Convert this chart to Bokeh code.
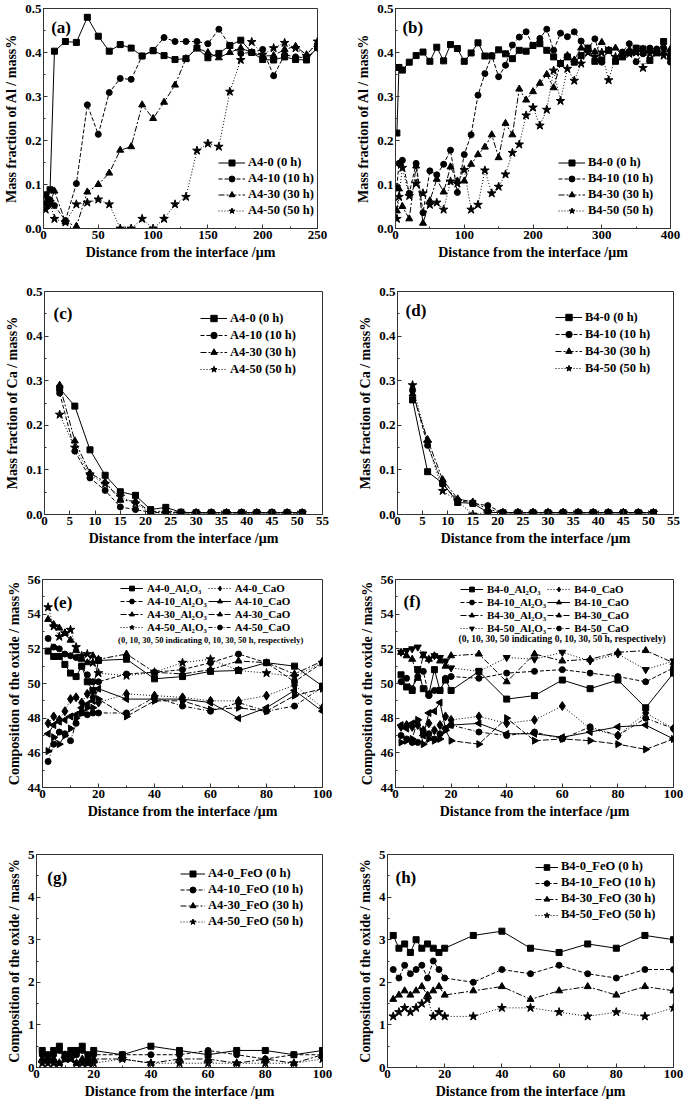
import math
from bokeh.plotting import figure
from bokeh.layouts import column, row
from bokeh.models import (Legend, LegendItem, Label, Range1d, SingleIntervalTicker,
                          PrintfTickFormatter)
from bokeh.embed import file_html
from bokeh.resources import INLINE

FONT = "Liberation Serif"

# ---------------- data ----------------
# (a) Al in A4 samples
X_A_AL = [2, 4, 6] + list(range(10, 251, 10))
A4_0_AL = [0.055, 0.065, 0.088, 0.403, 0.425, 0.423, 0.480, 0.437, 0.403, 0.418, 0.410, 0.392, 0.404,
           0.393, 0.384, 0.386, 0.410, 0.388, 0.398, 0.416, 0.428, 0.400, 0.384, 0.383, 0.390, 0.384, 0.383, 0.412]
A4_10_AL = [0.077, 0.060, 0.065, 0.052, 0.018, 0.102, 0.281, 0.214, 0.309, 0.341, 0.339, 0.392, 0.405,
            0.434, 0.425, 0.425, 0.425, 0.420, 0.453, 0.416, 0.398, 0.400, 0.407, 0.347, 0.395, 0.390, 0.388, 0.410]
A4_30_AL = [0.050, 0.055, 0.060, 0.085, 0.015, 0.005, 0.083, 0.100, 0.126, 0.178, 0.186, 0.281, 0.250,
            0.287, 0.326, 0.386, 0.410, 0.400, 0.388, 0.400, 0.410, 0.400, 0.392, 0.393, 0.407, 0.414, 0.395, 0.423]
A4_50_AL = [0.043, 0.055, 0.060, 0.022, 0.014, 0.055, 0.059, 0.066, 0.055, 0.000, 0.000, 0.022, 0.000,
            0.022, 0.055, 0.072, 0.177, 0.193, 0.186, 0.311, 0.383, 0.424, 0.395, 0.410, 0.422, 0.410, 0.392, 0.425]

# (b) Al in B4 samples
X_B_AL = [2, 5] + list(range(10, 401, 10))
B4_0_AL = [0.217, 0.366, 0.360, 0.378, 0.393, 0.401, 0.380, 0.412, 0.381, 0.418, 0.409, 0.380,
           0.399, 0.422, 0.392, 0.392, 0.406, 0.397, 0.386, 0.405, 0.403, 0.416,
           0.420, 0.405, 0.390, 0.375, 0.390, 0.378, 0.393, 0.410, 0.380, 0.383,
           0.405, 0.380, 0.390, 0.400, 0.410, 0.408, 0.382, 0.400, 0.425, 0.390]
B4_10_AL = [0.095, 0.148, 0.155, 0.080, 0.148, 0.036, 0.131, 0.122, 0.146, 0.178, 0.082, 0.168,
            0.213, 0.303, 0.352, 0.393, 0.345, 0.371, 0.417, 0.435, 0.447, 0.416,
            0.432, 0.453, 0.405, 0.444, 0.436, 0.447, 0.426, 0.408, 0.431, 0.378,
            0.405, 0.382, 0.401, 0.420, 0.379, 0.397, 0.410, 0.408, 0.410, 0.378]
B4_30_AL = [0.040, 0.090, 0.050, 0.022, 0.142, 0.012, 0.063, 0.112, 0.083, 0.140, 0.108, 0.108,
            0.146, 0.168, 0.185, 0.213, 0.161, 0.239, 0.213, 0.317, 0.292, 0.311,
            0.330, 0.350, 0.320, 0.375, 0.393, 0.383, 0.410, 0.408, 0.401, 0.423,
            0.405, 0.410, 0.393, 0.405, 0.400, 0.408, 0.405, 0.397, 0.400, 0.408]
B4_50_AL = [0.022, 0.072, 0.138, 0.074, 0.102, 0.080, 0.054, 0.059, 0.043, 0.107, 0.102, 0.133,
            0.043, 0.054, 0.132, 0.080, 0.095, 0.123, 0.172, 0.191, 0.257, 0.275,
            0.234, 0.270, 0.359, 0.290, 0.363, 0.336, 0.375, 0.400, 0.390, 0.400,
            0.337, 0.390, 0.393, 0.397, 0.400, 0.365, 0.397, 0.400, 0.393, 0.400]

# (c), (d) Ca
X_CA = [3, 6, 9, 12, 15, 18, 21, 24, 27, 30, 33, 36, 39, 42, 45, 48, 51]
A4_0_CA = [0.283, 0.243, 0.145, 0.088, 0.051, 0.043, 0.011, 0.016, 0.005, 0.004, 0.004, 0.004, 0.004, 0.004, 0.004, 0.004, 0.004]
A4_10_CA = [0.272, 0.142, 0.082, 0.054, 0.017, 0.011, 0.005, 0.004, 0.004, 0.004, 0.004, 0.004, 0.004, 0.004, 0.004, 0.004, 0.004]
A4_30_CA = [0.290, 0.165, 0.093, 0.073, 0.032, 0.030, 0.006, 0.008, 0.004, 0.004, 0.004, 0.004, 0.004, 0.004, 0.004, 0.004, 0.004]
A4_50_CA = [0.224, 0.150, 0.090, 0.069, 0.040, 0.025, 0.004, 0.003, 0.003, 0.003, 0.003, 0.003, 0.003, 0.003, 0.003, 0.003, 0.003]
B4_0_CA = [0.257, 0.096, 0.070, 0.027, 0.025, 0.005, 0.004, 0.004, 0.004, 0.004, 0.004, 0.004, 0.004, 0.004, 0.004, 0.004, 0.004]
B4_10_CA = [0.278, 0.155, 0.068, 0.032, 0.025, 0.020, 0.004, 0.004, 0.004, 0.004, 0.004, 0.004, 0.004, 0.004, 0.004, 0.004, 0.004]
B4_30_CA = [0.270, 0.168, 0.078, 0.035, 0.028, 0.012, 0.004, 0.004, 0.004, 0.004, 0.004, 0.004, 0.004, 0.004, 0.004, 0.004, 0.004]
B4_50_CA = [0.290, 0.160, 0.053, 0.030, 0.000, 0.005, 0.004, 0.004, 0.004, 0.004, 0.004, 0.004, 0.004, 0.004, 0.004, 0.004, 0.004]

# (e)-(h) oxide composition
X_OX = [2, 4, 6, 8, 10, 12, 14, 16, 18, 20, 30, 40, 50, 60, 70, 80, 90, 100]
A4_0_AL2O3 = [51.87, 51.56, 51.56, 51.10, 50.60, 50.40, 51.00, 50.10, 49.60, 51.33, 51.40, 50.27, 50.40, 50.70, 50.75, 51.20, 51.00, 49.85]
A4_10_AL2O3 = [52.60, 52.10, 52.00, 51.70, 51.60, 51.50, 51.00, 50.50, 50.10, 50.10, 50.55, 50.65, 50.80, 51.20, 51.70, 51.20, 50.10, 51.20]
A4_30_AL2O3 = [53.70, 53.40, 53.20, 52.90, 52.50, 51.90, 51.40, 51.20, 51.60, 51.40, 51.70, 50.65, 50.55, 50.80, 51.30, 51.20, 50.55, 51.30]
A4_50_AL2O3 = [54.40, 53.30, 52.70, 52.90, 53.10, 52.10, 51.60, 51.70, 51.20, 50.60, 50.45, 50.65, 51.20, 51.40, 50.75, 50.60, 50.40, 51.20]
A4_0_CAO = [47.7, 48.1, 47.9, 48.4, 49.1, 49.2, 48.9, 49.4, 49.2, 48.9, 49.4, 49.3, 49.2, 49.0, 49.0, 49.3, 49.9, 48.6]
A4_10_CAO = [47.1, 47.6, 47.8, 47.9, 48.1, 48.2, 48.6, 48.8, 49.0, 49.7, 49.1, 49.1, 49.1, 48.9, 48.0, 48.6, 49.6, 48.4]
A4_30_CAO = [46.1, 46.9, 46.5, 47.0, 47.4, 48.0, 48.3, 48.6, 48.6, 49.1, 48.1, 49.0, 49.0, 48.5, 48.6, 48.4, 49.3, 49.7]
A4_50_CAO = [45.5, 46.5, 47.2, 47.1, 46.7, 47.7, 48.3, 48.2, 48.3, 48.3, 48.3, 49.2, 48.7, 48.4, 48.9, 48.4, 48.7, 49.8]

B4_0_AL2O3 = [50.5, 49.8, 49.6, 50.8, 49.7, 49.4, 50.8, 49.6, 50.2, 49.6, 50.7, 49.1, 49.3, 50.2, 49.7, 50.2, 48.6, 50.6]
B4_10_AL2O3 = [50.1, 50.3, 49.7, 50.4, 50.7, 49.3, 49.6, 49.6, 50.3, 50.4, 50.3, 50.6, 50.7, 50.8, 50.6, 50.4, 50.1, 50.9]
B4_30_AL2O3 = [51.8, 51.6, 51.4, 50.3, 51.6, 51.4, 51.6, 51.3, 51.0, 51.6, 51.7, 50.1, 51.7, 51.3, 51.4, 51.8, 51.9, 51.2]
B4_50_AL2O3 = [51.8, 51.9, 52.0, 52.1, 51.7, 51.4, 51.6, 51.5, 51.3, 50.9, 50.7, 51.5, 51.4, 51.8, 51.3, 51.7, 50.8, 51.3]
B4_0_CAO = [47.5, 47.6, 47.5, 47.6, 47.3, 47.7, 47.3, 47.6, 48.1, 47.9, 48.1, 47.7, 47.9, 48.7, 47.4, 47.0, 48.3, 47.4]
B4_10_CAO = [47.6, 47.4, 47.7, 47.8, 47.0, 48.3, 48.4, 48.9, 47.4, 47.6, 47.7, 47.1, 47.1, 46.9, 47.2, 47.5, 47.6, 46.8]
B4_30_CAO = [46.6, 46.7, 46.8, 47.9, 46.5, 46.8, 46.7, 46.8, 47.3, 46.7, 46.5, 48.0, 46.7, 46.8, 46.7, 46.5, 46.2, 46.8]
B4_50_CAO = [47.0, 46.8, 46.6, 46.6, 47.1, 47.1, 46.8, 47.1, 47.4, 47.6, 47.2, 47.0, 47.2, 46.8, 47.5, 47.0, 48.0, 47.4]

A4_0_FEO = [0.4, 0.3, 0.4, 0.5, 0.3, 0.4, 0.4, 0.5, 0.3, 0.4, 0.3, 0.5, 0.4, 0.3, 0.4, 0.4, 0.3, 0.4]
A4_10_FEO = [0.3, 0.2, 0.3, 0.4, 0.2, 0.3, 0.3, 0.4, 0.2, 0.3, 0.3, 0.3, 0.3, 0.4, 0.3, 0.2, 0.3, 0.3]
A4_30_FEO = [0.2, 0.2, 0.2, 0.1, 0.3, 0.2, 0.1, 0.2, 0.1, 0.2, 0.2, 0.1, 0.2, 0.2, 0.1, 0.2, 0.1, 0.3]
A4_50_FEO = [0.1, 0.1, 0.1, 0.1, 0.2, 0.2, 0.1, 0.1, 0.1, 0.1, 0.2, 0.1, 0.1, 0.1, 0.1, 0.1, 0.1, 0.2]
B4_0_FEO = [3.1, 2.8, 2.9, 2.7, 3.0, 2.8, 2.9, 2.8, 2.7, 2.8, 3.1, 3.2, 2.8, 2.7, 2.9, 2.8, 3.1, 3.0]
B4_10_FEO = [2.3, 2.1, 2.4, 2.2, 2.3, 2.4, 2.1, 2.5, 2.3, 2.1, 2.0, 2.3, 2.2, 2.4, 2.2, 2.1, 2.3, 2.3]
B4_30_FEO = [1.6, 1.7, 1.8, 1.7, 1.8, 1.9, 1.7, 1.8, 1.9, 1.7, 1.8, 1.9, 1.6, 1.8, 1.9, 1.7, 1.9, 1.8]
B4_50_FEO = [1.2, 1.3, 1.4, 1.3, 1.4, 1.5, 1.6, 1.2, 1.3, 1.2, 1.2, 1.4, 1.4, 1.3, 1.2, 1.3, 1.2, 1.4]

NOTE = "(0, 10, 30, 50 indicating 0, 10, 30, 50 h, respectively)"
XTITLE = "Distance from the interface /\u03bcm"

# ---------------- styling helpers ----------------
SOLID, DASH, DASHDOT, DOT = "solid", "4 2", "6 2 2 2", "1 2"
MSIZE = {"square": 6, "circle": 6, "triangle": 7, "star": 9, "diamond": 9, "inverted_triangle": 7}
AXC = "#333333"


def make_fig(w, h, xr, yr, bl, br, bt, bb, xint, xminor, yint, yminor, yfmt, ytitle):
    p = figure(width=w, height=h, x_range=Range1d(*xr), y_range=Range1d(*yr),
               output_backend="svg", toolbar_location=None,
               min_border_left=bl, min_border_right=br, min_border_top=bt, min_border_bottom=bb)
    p.grid.visible = False
    p.outline_line_color = AXC
    p.outline_line_width = 1
    p.xaxis.ticker = SingleIntervalTicker(interval=xint, num_minor_ticks=xminor)
    p.yaxis.ticker = SingleIntervalTicker(interval=yint, num_minor_ticks=yminor)
    if yfmt:
        p.yaxis.formatter = PrintfTickFormatter(format=yfmt)
    p.xaxis.axis_label = XTITLE
    p.yaxis.axis_label = ytitle
    for ax in (p.xaxis[0], p.yaxis[0]):
        ax.major_tick_in = 4
        ax.major_tick_out = 0
        ax.minor_tick_in = 2
        ax.minor_tick_out = 0
        ax.axis_line_color = AXC
        ax.major_tick_line_color = AXC
        ax.minor_tick_line_color = AXC
        ax.major_label_text_font = FONT
        ax.major_label_text_font_style = "bold"
        ax.major_label_text_font_size = "13px"
        ax.major_label_text_color = "black"
        ax.axis_label_text_font = FONT
        ax.axis_label_text_font_style = "bold"
        ax.axis_label_text_font_size = "14px"
        ax.axis_label_text_color = "black"
        ax.major_label_standoff = 2
        ax.axis_label_standoff = 3
    return p


def series(p, x, y, marker, dash, label, angle=0.0):
    lr = p.line(x, y, line_color="black", line_width=1, line_dash=dash)
    sr = p.scatter(x, y, marker=marker, size=MSIZE[marker], angle=angle,
                   fill_color="black", line_color="black")
    return LegendItem(label=label, renderers=[lr, sr])


def legend(p, items, loc, fs="12.5px", lh=15, gw=27, nrows=None, standoff=3):
    kw = dict(items=items, location=loc, border_line_color=None, background_fill_alpha=0,
              padding=0, margin=0, spacing=1, label_height=lh, glyph_height=lh, glyph_width=gw,
              label_standoff=standoff, label_text_font=FONT, label_text_font_style="bold",
              label_text_font_size=fs, label_text_color="black")
    if nrows:
        kw["nrows"] = nrows
    p.add_layout(Legend(**kw))


def tag(p, x, y, t):
    p.add_layout(Label(x=x, y=y, text=t, text_font=FONT, text_font_style="bold",
                       text_font_size="17px", text_baseline="top", text_align="left",
                       text_color="black"))


def note(p, x, y, fs):
    p.add_layout(Label(x=x, y=y, text=NOTE, text_font=FONT, text_font_style="bold",
                       text_font_size=fs, text_baseline="middle", text_align="left",
                       text_color="black"))


W1, W2 = 340, 344
H1, H2, H3, H4 = 270, 285, 275, 278

# (a)
pa = make_fig(W1, H1, (0, 250), (0, 0.5), 43, 23, 8, 42, 50, 2, 0.1, 2, "%.1f", "Mass fraction of Al / mass%")
it = [series(pa, X_A_AL, A4_0_AL, "square", SOLID, "A4-0 (0 h)"),
      series(pa, X_A_AL, A4_10_AL, "circle", DASH, "A4-10 (10 h)"),
      series(pa, X_A_AL, A4_30_AL, "triangle", DASHDOT, "A4-30 (30 h)"),
      series(pa, X_A_AL, A4_50_AL, "star", DOT, "A4-50 (50 h)")]
legend(pa, it, (175, 10))
tag(pa, 7, 0.478, "(a)")

# (b)
pb = make_fig(W2, H1, (0, 400), (0, 0.5), 55, 14, 8, 42, 100, 2, 0.1, 2, "%.1f", "Mass fraction of Al / mass%")
it = [series(pb, X_B_AL, B4_0_AL, "square", SOLID, "B4-0 (0 h)"),
      series(pb, X_B_AL, B4_10_AL, "circle", DASH, "B4-10 (10 h)"),
      series(pb, X_B_AL, B4_30_AL, "triangle", DASHDOT, "B4-30 (30 h)"),
      series(pb, X_B_AL, B4_50_AL, "star", DOT, "B4-50 (50 h)")]
legend(pb, it, (163, 10))
tag(pb, 10, 0.478, "(b)")

# (c)
pc = make_fig(W1, H2, (0, 55), (0, 0.5), 44, 18, 21, 41, 5, 1, 0.1, 2, "%.1f", "Mass fraction of Ca / mass%")
it = [series(pc, X_CA, A4_0_CA, "square", SOLID, "A4-0 (0 h)"),
      series(pc, X_CA, A4_10_CA, "circle", DASH, "A4-10 (10 h)"),
      series(pc, X_CA, A4_30_CA, "triangle", DASHDOT, "A4-30 (30 h)"),
      series(pc, X_CA, A4_50_CA, "star", DOT, "A4-50 (50 h)")]
legend(pc, it, (156, 137), lh=16)
tag(pc, 1.8, 0.473, "(c)")

# (d)
pd_ = make_fig(W2, H2, (0, 55), (0, 0.5), 57, 11, 21, 41, 5, 1, 0.1, 2, "%.1f", "Mass fraction of Ca / mass%")
it = [series(pd_, X_CA, B4_0_CA, "square", SOLID, "B4-0 (0 h)"),
      series(pd_, X_CA, B4_10_CA, "circle", DASH, "B4-10 (10 h)"),
      series(pd_, X_CA, B4_30_CA, "triangle", DASHDOT, "B4-30 (30 h)"),
      series(pd_, X_CA, B4_50_CA, "star", DOT, "B4-50 (50 h)")]
legend(pd_, it, (158, 138), lh=16)
tag(pd_, 1.6, 0.478, "(d)")

# (e)
pe = make_fig(W1, H3, (0, 100), (44, 56), 42, 18, 24, 43, 20, 2, 2, 2, None, "Composition of the oxide / mass%")
it = [series(pe, X_OX, A4_0_AL2O3, "square", SOLID, "A4-0_Al\u2082O\u2083"),
      series(pe, X_OX, A4_10_AL2O3, "circle", DASH, "A4-10_Al\u2082O\u2083"),
      series(pe, X_OX, A4_30_AL2O3, "triangle", DASHDOT, "A4-30_Al\u2082O\u2083"),
      series(pe, X_OX, A4_50_AL2O3, "star", DOT, "A4-50_Al\u2082O\u2083"),
      series(pe, X_OX, A4_0_CAO, "diamond", DOT, "A4-0_CaO"),
      series(pe, X_OX, A4_10_CAO, "triangle", SOLID, "A4-10_CaO", math.pi / 2),
      series(pe, X_OX, A4_30_CAO, "triangle", "6 2", "A4-30_CaO", -math.pi / 2),
      series(pe, X_OX, A4_50_CAO, "circle", "4 2 1 2", "A4-50_CaO")]
legend(pe, it, (78, 154), fs="11px", lh=12, gw=23, nrows=4, standoff=4)
note(pe, 27, 52.5, "8.5px")
tag(pe, 3.9, 55.25, "(e)")

# (f)
pf = make_fig(W2, H3, (0, 100), (44, 56), 55, 11, 24, 43, 20, 2, 2, 2, None, "Composition of the oxide / mass%")
it = [series(pf, X_OX, B4_0_AL2O3, "square", SOLID, "B4-0_Al\u2082O\u2083"),
      series(pf, X_OX, B4_10_AL2O3, "circle", DASH, "B4-10_Al\u2082O\u2083"),
      series(pf, X_OX, B4_30_AL2O3, "triangle", DASHDOT, "B4-30_Al\u2082O\u2083"),
      series(pf, X_OX, B4_50_AL2O3, "inverted_triangle", DOT, "B4-50_Al\u2082O\u2083"),
      series(pf, X_OX, B4_0_CAO, "diamond", DOT, "B4-0_CaO"),
      series(pf, X_OX, B4_10_CAO, "triangle", SOLID, "B4-10_CaO", math.pi / 2),
      series(pf, X_OX, B4_30_CAO, "triangle", "6 2", "B4-30_CaO", -math.pi / 2),
      series(pf, X_OX, B4_50_CAO, "circle", "4 2 1 2", "B4-50_CaO")]
legend(pf, it, (65, 153), fs="11px", lh=12, gw=23, nrows=4, standoff=4)
note(pf, 22.7, 52.55, "9.5px")
tag(pf, 2.9, 55.3, "(f)")

# (g)
pg = make_fig(W1, H4, (0, 100), (0, 5), 36, 18, 24, 41, 20, 2, 1, 2, None, "Composition of the oxide / mass%")
it = [series(pg, X_OX, A4_0_FEO, "square", SOLID, "A4-0_FeO (0 h)"),
      series(pg, X_OX, A4_10_FEO, "circle", DASH, "A4-10_FeO (10 h)"),
      series(pg, X_OX, A4_30_FEO, "triangle", DASHDOT, "A4-30_FeO (30 h)"),
      series(pg, X_OX, A4_50_FEO, "star", DOT, "A4-50_FeO (50 h)")]
legend(pg, it, (144, 138), gw=25)
tag(pg, 3.8, 4.69, "(g)")

# (h)
ph = make_fig(W2, H4, (0, 100), (0, 5), 47, 11, 24, 41, 20, 2, 1, 2, None, "Composition of the oxide / mass%")
it = [series(ph, X_OX, B4_0_FEO, "square", SOLID, "B4-0_FeO (0 h)"),
      series(ph, X_OX, B4_10_FEO, "circle", DASH, "B4-10_FeO (10 h)"),
      series(ph, X_OX, B4_30_FEO, "triangle", DASHDOT, "B4-30_FeO (30 h)"),
      series(ph, X_OX, B4_50_FEO, "star", DOT, "B4-50_FeO (50 h)")]
legend(ph, it, (148, 145), lh=14, gw=23)
tag(ph, 2.8, 4.69, "(h)")

layout = column(row(pa, pb, spacing=0), row(pc, pd_, spacing=0),
                row(pe, pf, spacing=0), row(pg, ph, spacing=0), spacing=0)

open("out.html", "w").write(file_html(layout, INLINE))
